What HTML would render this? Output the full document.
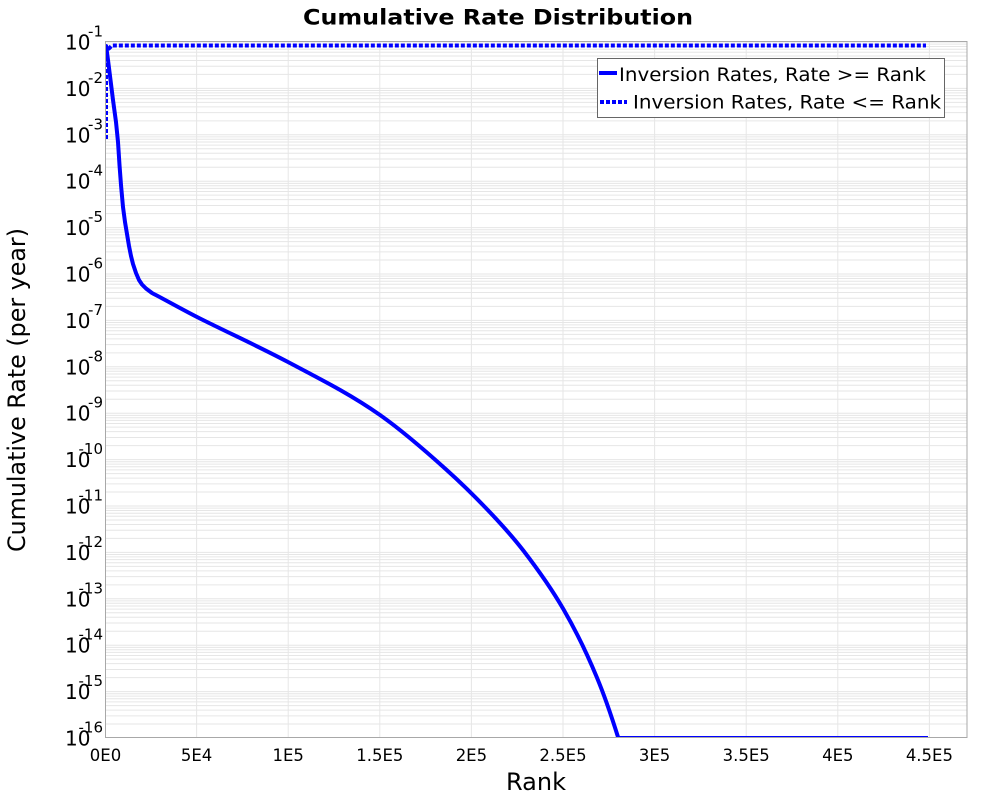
<!DOCTYPE html>
<html>
<head>
<meta charset="utf-8">
<style>
  html, body { margin: 0; padding: 0; background: #ffffff; }
  svg { display: block; }
  text { font-family: "DejaVu Sans", "Liberation Sans", sans-serif; fill: #000; }
</style>
</head>
<body>
<svg width="1000" height="800" viewBox="0 0 1000 800" xmlns="http://www.w3.org/2000/svg">
  <defs>
    <clipPath id="plotclip">
      <rect x="105" y="42" width="862" height="696"/>
    </clipPath>
    <g id="dec" stroke="#e6e6e6" stroke-width="1">
      <line x1="105" x2="967" y1="0" y2="0"/>
      <line x1="105" x2="967" y1="2.12" y2="2.12"/>
      <line x1="105" x2="967" y1="4.5" y2="4.5"/>
      <line x1="105" x2="967" y1="7.19" y2="7.19"/>
      <line x1="105" x2="967" y1="10.29" y2="10.29"/>
      <line x1="105" x2="967" y1="13.97" y2="13.97"/>
      <line x1="105" x2="967" y1="18.47" y2="18.47"/>
      <line x1="105" x2="967" y1="24.26" y2="24.26"/>
      <line x1="105" x2="967" y1="32.43" y2="32.43"/>
    </g>
  </defs>

  <rect x="0" y="0" width="1000" height="800" fill="#ffffff"/>

  <!-- horizontal grid (log decades) -->
  <g clip-path="url(#plotclip)">
    <use href="#dec" y="42"/>
    <use href="#dec" y="88.4"/>
    <use href="#dec" y="134.8"/>
    <use href="#dec" y="181.2"/>
    <use href="#dec" y="227.6"/>
    <use href="#dec" y="274"/>
    <use href="#dec" y="320.4"/>
    <use href="#dec" y="366.8"/>
    <use href="#dec" y="413.2"/>
    <use href="#dec" y="459.6"/>
    <use href="#dec" y="506"/>
    <use href="#dec" y="552.4"/>
    <use href="#dec" y="598.8"/>
    <use href="#dec" y="645.2"/>
    <use href="#dec" y="691.6"/>
  </g>

  <!-- vertical grid -->
  <g stroke="#e6e6e6" stroke-width="1">
    <line x1="196.6" x2="196.6" y1="42" y2="738"/>
    <line x1="288.2" x2="288.2" y1="42" y2="738"/>
    <line x1="379.8" x2="379.8" y1="42" y2="738"/>
    <line x1="471.4" x2="471.4" y1="42" y2="738"/>
    <line x1="563" x2="563" y1="42" y2="738"/>
    <line x1="654.6" x2="654.6" y1="42" y2="738"/>
    <line x1="746.2" x2="746.2" y1="42" y2="738"/>
    <line x1="837.8" x2="837.8" y1="42" y2="738"/>
    <line x1="929.4" x2="929.4" y1="42" y2="738"/>
  </g>

  <!-- series -->
  <g clip-path="url(#plotclip)" fill="none" stroke="#0000ff" stroke-width="4" stroke-linejoin="round">
    <path d="M106,139 L106,46 L109,48.5 L112,45.5 L926,45.5" stroke-dasharray="4,2"/>
    <path d="M106,45 L108,60 L110.5,80 L113,100 L116,122 L118,142 L119.5,165 L121,185 L123,207 L125,222 L127,234 L129,246 L131,256 L133,264 L136,273 L139,280 L142,284.5 L146,288.5 L152,293
             C168,301.3 184,310.5 200,318.5
             C229.3,333.2 258.7,346.5 288,362
             C318.7,378.3 349.3,393.5 380,415
             C402.2,430.6 424.5,450 446.7,470
             C463.4,485 480,501.5 496.7,519.5
             C505.6,529.1 514.4,539 523.3,550.5
             C536.6,567.8 550,586.1 563.3,609
             C574.4,628.1 585.6,650.3 596.7,677
             C603.8,694 610.9,714.3 618,737
             L619,738 L928,738"/>
  </g>

  <!-- frame -->
  <rect x="105.5" y="41.5" width="861.5" height="696" fill="none" stroke="#a8a8a8" stroke-width="1"/>

  <!-- title -->
  <text x="303" y="24.5" font-size="21" font-weight="bold" textLength="390" lengthAdjust="spacingAndGlyphs">Cumulative Rate Distribution</text>

  <!-- y tick labels -->
  <g font-size="20">
    <text x="65" y="49.5">10</text>
    <text x="65" y="95.9">10</text>
    <text x="65" y="142.3">10</text>
    <text x="65" y="188.7">10</text>
    <text x="65" y="235.1">10</text>
    <text x="65" y="281.5">10</text>
    <text x="65" y="327.9">10</text>
    <text x="65" y="374.3">10</text>
    <text x="65" y="420.7">10</text>
    <text x="65" y="467.1">10</text>
    <text x="65" y="513.5">10</text>
    <text x="65" y="559.9">10</text>
    <text x="65" y="606.3">10</text>
    <text x="65" y="652.7">10</text>
    <text x="65" y="699.1">10</text>
    <text x="65" y="745.5">10</text>
  </g>
  <g font-size="15" text-anchor="end">
    <text x="103" y="36.5">-1</text>
    <text x="103" y="82.9">-2</text>
    <text x="103" y="129.3">-3</text>
    <text x="103" y="175.7">-4</text>
    <text x="103" y="222.1">-5</text>
    <text x="103" y="268.5">-6</text>
    <text x="103" y="314.9">-7</text>
    <text x="103" y="361.3">-8</text>
    <text x="103" y="407.7">-9</text>
    <text x="103" y="454.1">-10</text>
    <text x="103" y="500.5">-11</text>
    <text x="103" y="546.9">-12</text>
    <text x="103" y="593.3">-13</text>
    <text x="103" y="639.7">-14</text>
    <text x="103" y="686.1">-15</text>
    <text x="103" y="732.5">-16</text>
  </g>

  <!-- x tick labels -->
  <g font-size="16.5" text-anchor="middle">
    <text x="105.5" y="761">0E0</text>
    <text x="196.6" y="761">5E4</text>
    <text x="288.2" y="761">1E5</text>
    <text x="379.8" y="761">1.5E5</text>
    <text x="471.4" y="761">2E5</text>
    <text x="563" y="761">2.5E5</text>
    <text x="654.6" y="761">3E5</text>
    <text x="746.2" y="761">3.5E5</text>
    <text x="837.8" y="761">4E5</text>
    <text x="929.4" y="761">4.5E5</text>
  </g>

  <!-- axis titles -->
  <text x="506" y="790" font-size="24" textLength="60" lengthAdjust="spacingAndGlyphs">Rank</text>
  <text transform="translate(25,390) rotate(-90)" x="0" y="0" font-size="24" text-anchor="middle" textLength="324" lengthAdjust="spacingAndGlyphs">Cumulative Rate (per year)</text>

  <!-- legend -->
  <rect x="597.5" y="58.5" width="347" height="59" fill="#ffffff" stroke="#666666" stroke-width="1"/>
  <line x1="599" x2="617" y1="73" y2="73" stroke="#0000ff" stroke-width="4"/>
  <text x="619" y="81" font-size="19" textLength="307" lengthAdjust="spacingAndGlyphs">Inversion Rates, Rate &gt;= Rank</text>
  <line x1="600" x2="627" y1="102" y2="102" stroke="#0000ff" stroke-width="4" stroke-dasharray="4,2"/>
  <text x="633" y="108.3" font-size="19" textLength="308" lengthAdjust="spacingAndGlyphs">Inversion Rates, Rate &lt;= Rank</text>
</svg>
</body>
</html>
